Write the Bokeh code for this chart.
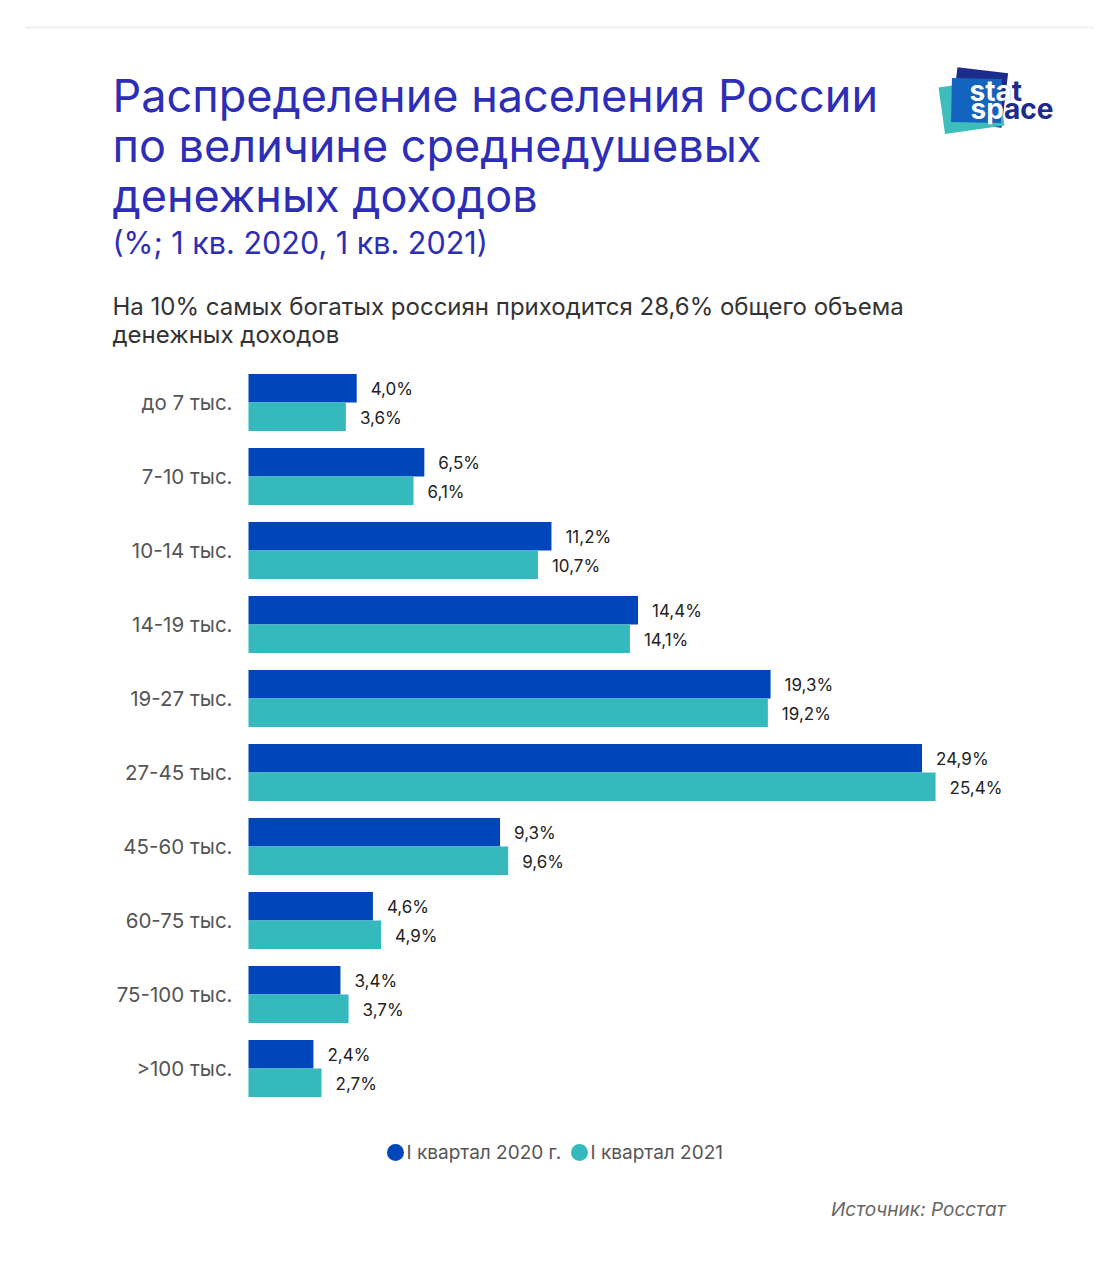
from bokeh.plotting import figure
from bokeh.models import Range1d
from bokeh.core.properties import value
from bokeh.embed import file_html
from bokeh.resources import INLINE

# ---- data ----
categories = ["до 7 тыс.", "7-10 тыс.", "10-14 тыс.", "14-19 тыс.", "19-27 тыс.",
              "27-45 тыс.", "45-60 тыс.", "60-75 тыс.", "75-100 тыс.", ">100 тыс."]
q1_2020 = [4.0, 6.5, 11.2, 14.4, 19.3, 24.9, 9.3, 4.6, 3.4, 2.4]
q1_2021 = [3.6, 6.1, 10.7, 14.1, 19.2, 25.4, 9.6, 4.9, 3.7, 2.7]
series_names = ["I квартал 2020 г.", "I квартал 2021"]
title_lines = ["Распределение населения России",
               "по величине среднедушевых",
               "денежных доходов"]
title_units = "(%; 1 кв. 2020, 1 кв. 2021)"
subtitle_lines = ["На 10% самых богатых россиян приходится 28,6% общего объема",
                  "денежных доходов"]
source_text = "Источник: Росстат"

# ---- styles ----
C2020 = "#0046BB"
C2021 = "#36B9BD"
TITLE_C = "#2D2EB5"
NAVY = "#1C2B8C"
FONT = "Inter"

W, H = 1103, 1264
PX = 27.05      # pixels per percent
X0 = 248        # canvas x of 0 %
STEP = 74       # pixels per category
Y0 = 402        # canvas y of first category centre
BAR_H = 0.385

def X(px):
    return (px - X0) / PX

def Y(py):
    return (py - Y0) / STEP

p = figure(width=W, height=H, output_backend="svg", toolbar_location=None,
           x_range=Range1d(-X0 / PX, (W - X0) / PX),
           y_range=Range1d((H - Y0) / STEP, -Y0 / STEP),
           x_axis_type=None, y_axis_type=None, min_border=0)
p.grid.visible = False
p.outline_line_color = None
p.background_fill_color = "white"
p.border_fill_color = "white"

idx = list(range(len(categories)))
y_a = [i - BAR_H / 2 for i in idx]
y_b = [i + BAR_H / 2 for i in idx]

p.hbar(y=y_a, left=0, right=q1_2020, height=BAR_H, fill_color=C2020, line_color=None)
p.hbar(y=y_b, left=0, right=q1_2021, height=BAR_H, fill_color=C2021, line_color=None)

def fmt(v):
    return f"{v:.1f}".replace(".", ",") + "%"

off = 14 / PX
p.text(x=[v + off for v in q1_2020], y=[y + 1 / STEP for y in y_a],
       text=[fmt(v) for v in q1_2020],
       text_font=value(FONT), text_font_size="17px", text_color="#222222",
       text_baseline="middle", text_align="left")
p.text(x=[v + off for v in q1_2021], y=[y + 1 / STEP for y in y_b],
       text=[fmt(v) for v in q1_2021],
       text_font=value(FONT), text_font_size="17px", text_color="#222222",
       text_baseline="middle", text_align="left")

# category labels
p.text(x=[X(232)] * len(categories), y=idx, text=categories,
       text_font=value(FONT), text_font_size="20.5px", text_color="#555555",
       text_baseline="middle", text_align="right")

# top rule
p.line(x=[X(25), X(1093)], y=[Y(27), Y(27)], line_color="#EFEFEF", line_width=2)

# title
for line, cy in zip(title_lines, [95, 145, 195]):
    p.text(x=[X(112)], y=[Y(cy)], text=[line], text_font=value(FONT),
           text_font_size="45px", text_color=TITLE_C,
           text_baseline="middle", text_align="left")
p.text(x=[X(112)], y=[Y(242)], text=[title_units], text_font=value(FONT),
       text_font_size="30.5px", text_color=TITLE_C,
       text_baseline="middle", text_align="left")

# subtitle
for line, cy in zip(subtitle_lines, [306, 334]):
    p.text(x=[X(112)], y=[Y(cy)], text=[line], text_font=value(FONT),
           text_font_size="24px", text_color="#333333",
           text_baseline="middle", text_align="left")

# legend
p.scatter(x=[X(395), X(579)], y=[Y(1152), Y(1152)], size=17,
          fill_color=[C2020, C2021], line_color=None)
p.text(x=[X(406), X(590)], y=[Y(1152), Y(1152)], text=series_names,
       text_font=value(FONT), text_font_size="19px", text_color="#555555",
       text_baseline="middle", text_align="left")

# source
p.text(x=[X(1005)], y=[Y(1209)], text=[source_text], text_font=value(FONT),
       text_font_size="19px", text_font_style="italic", text_color="#666666",
       text_baseline="middle", text_align="right")

# logo
p.rect(x=[X(979)], y=[Y(97)], width=51, height=55, angle=-0.12,
       width_units="screen", height_units="screen", fill_color=NAVY, line_color=None)
p.rect(x=[X(971)], y=[Y(106)], width=60, height=47, angle=0.14,
       width_units="screen", height_units="screen", fill_color="#3DBDBB", line_color=None)
p.rect(x=[X(976)], y=[Y(100)], width=50, height=44, angle=-0.02,
       width_units="screen", height_units="screen", fill_color="#1264BE", line_color=None)
p.text(x=[X(969)], y=[Y(90)], text=["stat"], text_font=value(FONT),
       text_font_size="28px", text_font_style="bold", text_color=NAVY,
       text_baseline="middle", text_align="left")
p.text(x=[X(969)], y=[Y(90)], text=["sta"], text_font=value(FONT),
       text_font_size="28px", text_font_style="bold", text_color="white",
       text_baseline="middle", text_align="left")
p.text(x=[X(970)], y=[Y(108)], text=["space"], text_font=value(FONT),
       text_font_size="28px", text_font_style="bold", text_color=NAVY,
       text_baseline="middle", text_align="left")
p.text(x=[X(970)], y=[Y(108)], text=["sp"], text_font=value(FONT),
       text_font_size="28px", text_font_style="bold", text_color="white",
       text_baseline="middle", text_align="left")

open("out.html", "w").write(file_html(p, INLINE))
